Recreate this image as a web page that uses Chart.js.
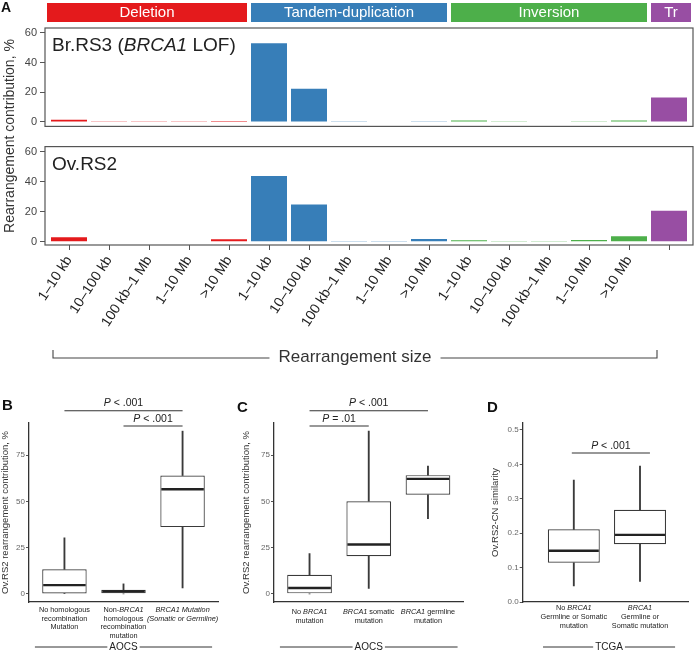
<!DOCTYPE html>
<html>
<head>
<meta charset="utf-8">
<script src="https://cdn.jsdelivr.net/npm/chart.js@4.4.1/dist/chart.umd.min.js"></script>
<style>
html, body { margin: 0; padding: 0; background: #fff; }
body { width: 694px; height: 652px; position: relative; overflow: hidden; font-family: "Liberation Sans", Arial, sans-serif; }
canvas { position: absolute; }
.tag { position: absolute; font-weight: bold; font-size: 15px; line-height: 15px; color: #111; }
#ytitleA { position: absolute; left: -111px; top: 128px; width: 240px; height: 16px; line-height: 16px;
  text-align: center; font-size: 14px; color: #333; transform: rotate(-90deg); }
</style>
</head>
<body>
<canvas id="aTop" width="694" height="136" style="left:0;top:0"></canvas>
<canvas id="aBottom" width="694" height="237" style="left:0;top:137px"></canvas>
<canvas id="panelB" width="228" height="257" style="left:0;top:395px"></canvas>
<canvas id="panelC" width="240" height="257" style="left:230px;top:395px"></canvas>
<canvas id="panelD" width="234" height="257" style="left:460px;top:395px"></canvas>
<div id="ytitleA">Rearrangement contribution, %</div>
<div class="tag" style="left:1px;top:0;font-size:14px">A</div>
<div class="tag" style="left:2px;top:397px">B</div>
<div class="tag" style="left:237px;top:399px">C</div>
<div class="tag" style="left:487px;top:399px">D</div>
<script>
const FONT = '"Liberation Sans", Arial, sans-serif';
Chart.defaults.font.family = FONT;

// ---- panel A data ----
const sizeLabels = ["1–10 kb", "10–100 kb", "100 kb–1 Mb", "1–10 Mb", ">10 Mb",
                    "1–10 kb", "10–100 kb", "100 kb–1 Mb", "1–10 Mb", ">10 Mb",
                    "1–10 kb", "10–100 kb", "100 kb–1 Mb", "1–10 Mb", ">10 Mb", ""];
const classNames = ["Deletion", "Tandem-duplication", "Inversion", "Tr"];
const classColors = ["#E41A1C", "#377EB8", "#4DAF4A", "#984EA3"];
const classOfBar = [0, 0, 0, 0, 0, 1, 1, 1, 1, 1, 2, 2, 2, 2, 2, 3];
const brRS3 = [1.5, 0.2, 0.2, 0.2, 0.6, 53.1, 22.4, 0.5, 0.3, 0.5, 1.0, 0.4, 0.3, 0.4, 1.0, 16.4];
const ovRS2 = [3.0, 0.4, 0.4, 0.4, 1.8, 44.0, 25.0, 0.3, 0.3, 1.9, 1.0, 0.3, 0.3, 1.2, 3.7, 20.8];

// ---- panel B data ----
const bCats = ["No homologous\nrecombination\nMutation", "Non-*BRCA1*\nhomologous\nrecombination\nmutation",
               "*BRCA1 Mutation*\n*(Somatic or Germline)*"];
const bLow = [0, 0, 3.2];
const bQ1 = [0.2, 0, 36.1];
const bMed = [4.7, 1.3, 56.6];
const bQ3 = [13.3, 2.2, 64.0];
const bHigh = [30.3, 5.4, 88.0];
const bP = [{ from: 1, to: 3, y: 99.0, text: "*P* < .001" }, { from: 2, to: 3, y: 90.8, text: "*P* < .001" }];

// ---- panel C data ----
const cCats = ["No *BRCA1*\nmutation", "*BRCA1* somatic\nmutation", "*BRCA1* germline\nmutation"];
const cLow = [0, 2.9, 40.6];
const cQ1 = [0, 20.4, 53.6];
const cMed = [3.2, 26.7, 62.2];
const cQ3 = [10.3, 50.1, 64.2];
const cHigh = [21.8, 88.0, 69.1];
const cP = [{ from: 1, to: 3, y: 99.0, text: "*P* < .001" }, { from: 1, to: 2, y: 90.8, text: "*P* = .01" }];

// ---- panel D data ----
const dCats = ["No *BRCA1*\nGermline or Somatic\nmutation", "*BRCA1*\nGermline or\nSomatic mutation"];
const dLow = [0.047, 0.060];
const dQ1 = [0.114, 0.168];
const dMed = [0.149, 0.195];
const dQ3 = [0.211, 0.268];
const dHigh = [0.354, 0.395];
const dP = [{ from: 0.97, to: 2.15, y: 0.433, text: "*P* < .001" }];

// text with *italic* runs
function richText(ctx, str, x, y, size, color, align, baseline) {
  const parts = str.split('*');
  const fonts = parts.map((_, i) => (i % 2 ? 'italic ' : '') + size + 'px ' + FONT);
  let w = 0;
  parts.forEach((t, i) => { ctx.font = fonts[i]; w += ctx.measureText(t).width; });
  let cx = align === 'left' ? x : x - w / 2;
  ctx.fillStyle = color;
  ctx.textAlign = 'left';
  ctx.textBaseline = baseline || 'middle';
  parts.forEach((t, i) => {
    ctx.font = fonts[i];
    ctx.fillText(t, cx, y);
    cx += ctx.measureText(t).width;
  });
}

const framePlugin = {
  id: 'frame',
  afterDraw(chart) {
    const a = chart.chartArea, ctx = chart.ctx;
    ctx.save();
    ctx.strokeStyle = '#555';
    ctx.lineWidth = 1.2;
    ctx.strokeRect(a.left, a.top, a.right - a.left, a.bottom - a.top);
    ctx.restore();
  }
};

function barPanel(id, values, title, yMin, yMax, bottom) {
  const xs = values.map((_, i) => i);
  const plugins = [framePlugin, {
    id: 'panelTitle',
    afterDraw(chart) {
      const a = chart.chartArea, ctx = chart.ctx;
      ctx.save();
      richText(ctx, title, a.left + 7, a.top + 18, 19, '#222', 'left');
      const x = chart.scales.x;
      if (!bottom) {
        // category strip above the panel
        const bounds = [-0.6, 4.5, 9.5, 14.5, 15.6];
        classNames.forEach((name, k) => {
          const l = x.getPixelForValue(bounds[k]) + 2, r = x.getPixelForValue(bounds[k + 1]) - 2;
          ctx.fillStyle = classColors[k];
          ctx.fillRect(l, 3, r - l, 19);
          ctx.fillStyle = '#fff';
          ctx.font = '15px ' + FONT;
          ctx.textAlign = 'center';
          ctx.textBaseline = 'middle';
          ctx.fillText(name, (l + r) / 2, 13);
        });
      } else {
        // "Rearrangement size" bracket
        const y = a.bottom + 113;
        const l = x.getPixelForValue(-0.4), r = x.getPixelForValue(14.7);
        const mid = (l + r) / 2;
        ctx.font = '17px ' + FONT;
        const tw = ctx.measureText('Rearrangement size').width;
        ctx.strokeStyle = '#444';
        ctx.lineWidth = 1.1;
        ctx.beginPath();
        ctx.moveTo(l, y - 8); ctx.lineTo(l, y); ctx.lineTo(mid - tw / 2 - 9, y);
        ctx.moveTo(mid + tw / 2 + 9, y); ctx.lineTo(r, y); ctx.lineTo(r, y - 8);
        ctx.stroke();
        richText(ctx, 'Rearrangement size', mid, y - 1, 17, '#333', 'center');
      }
      ctx.restore();
    }
  }];
  return new Chart(document.getElementById(id), {
    type: 'bar',
    data: {
      datasets: [{
        data: xs.map((x, i) => ({ x: x, y: values[i] })),
        backgroundColor: classOfBar.map(c => classColors[c]),
        borderWidth: 0,
        categoryPercentage: 1,
        barPercentage: 0.9
      }]
    },
    options: {
      responsive: false, animation: false, events: [],
      layout: { padding: bottom ? { top: 3, right: 1, bottom: 0, left: 0 } : { top: 28, right: 1, bottom: 3, left: 0 } },
      plugins: { legend: { display: false }, tooltip: { enabled: false } },
      scales: {
        x: {
          type: 'linear', min: -0.6, max: 15.6, offset: false, display: bottom,
          afterBuildTicks: s => { s.ticks = xs.map(v => ({ value: v })); },
          afterFit: s => { s.height = bottom ? 129 : 0; },
          ticks: { autoSkip: false, minRotation: 57, maxRotation: 57, font: { size: 14 }, color: '#222', padding: 3,
                   callback: (v, i) => sizeLabels[i] },
          grid: { drawOnChartArea: false, tickLength: 5, color: '#555', offset: false },
          border: { display: false }
        },
        y: {
          min: yMin, max: yMax,
          afterBuildTicks: s => { s.ticks = [0, 20, 40, 60].map(v => ({ value: v })); },
          afterFit: s => { s.width = 45; },
          ticks: { font: { size: 11 }, color: '#444', padding: 3 },
          grid: { drawOnChartArea: false, tickLength: 5, color: '#555' },
          border: { display: false }
        }
      }
    },
    plugins: plugins
  });
}

barPanel('aTop', brRS3, 'Br.RS3 (*BRCA1* LOF)', -3, 63.3, false);
barPanel('aBottom', ovRS2, 'Ov.RS2', -2.1, 63.6, true);

function boxPanel(id, o) {
  const xs = o.cats.map((_, i) => i + 1);
  const span = (a, b) => xs.map((x, i) => ({ x: x, y: [a[i], b[i]] }));
  const halfBox = c => {
    const sx = c.chart.scales.x;
    return sx.getPixelForValue(1 + o.boxWidth / 2) - sx.getPixelForValue(1) - 1;
  };
  const datasets = [
    { type: 'scatter', data: xs.map((x, i) => ({ x: x, y: o.med[i] })), pointStyle: 'line',
      borderColor: '#222', borderWidth: 2.4, pointRadius: halfBox, order: 0 },
    { data: span(o.q1, o.q3), backgroundColor: '#fff', borderColor: '#3a3a3a', borderWidth: 1.2,
      borderSkipped: false, grouped: false, categoryPercentage: 1, barPercentage: o.boxWidth, order: 1 },
    { data: span(o.low, o.q1), backgroundColor: '#3a3a3a', barThickness: 1.2, grouped: false, order: 2 },
    { data: span(o.q3, o.high), backgroundColor: '#3a3a3a', barThickness: 1.2, grouped: false, order: 2 }
  ];
  o.pvals.forEach(p => datasets.push({
    type: 'line', data: [{ x: p.from, y: p.y }, { x: p.to, y: p.y }],
    borderColor: '#333', borderWidth: 1.1, pointRadius: 0, clip: false, order: 3
  }));
  const notes = {
    id: 'notes',
    afterDraw(chart) {
      const a = chart.chartArea, ctx = chart.ctx, sx = chart.scales.x, sy = chart.scales.y;
      ctx.save();
      o.cats.forEach((cat, i) => {
        cat.split('\n').forEach((line, k) => {
          richText(ctx, line, sx.getPixelForValue(i + 1), a.bottom + o.labTop + k * o.labLh, 7.3, '#222', 'center');
        });
      });
      o.pvals.forEach(p => {
        richText(ctx, p.text, sx.getPixelForValue((p.from + p.to) / 2), sy.getPixelForValue(p.y) - 2, 10.5, '#222', 'center', 'bottom');
      });
      const y = a.bottom + 45;
      const l = sx.getPixelForValue(o.group.from), r = sx.getPixelForValue(o.group.to);
      const mid = (l + r) / 2;
      ctx.font = '10px ' + FONT;
      const tw = ctx.measureText(o.group.text).width;
      ctx.strokeStyle = '#333';
      ctx.lineWidth = 1;
      ctx.beginPath();
      ctx.moveTo(l, y); ctx.lineTo(mid - tw / 2 - 2, y);
      ctx.moveTo(mid + tw / 2 + 2, y); ctx.lineTo(r, y);
      ctx.stroke();
      richText(ctx, o.group.text, mid, y, 10, '#222', 'center');
      ctx.restore();
    }
  };
  return new Chart(document.getElementById(id), {
    type: 'bar',
    data: { datasets: datasets },
    options: {
      responsive: false, animation: false, events: [],
      layout: { padding: o.pad },
      plugins: { legend: { display: false }, tooltip: { enabled: false } },
      scales: {
        x: {
          type: 'linear', min: o.xMin, max: o.xMax, offset: false,
          afterBuildTicks: s => { s.ticks = xs.map(v => ({ value: v })); },
          afterFit: s => { s.height = 50; },
          ticks: { display: false },
          grid: { display: false, offset: false },
          border: { color: '#333', width: 1.3 }
        },
        y: {
          min: o.yMin, max: o.yMax,
          afterBuildTicks: s => { s.ticks = o.yTicks.map(v => ({ value: v })); },
          afterFit: s => { s.width = o.yWidth; },
          ticks: { font: { size: 8 }, color: '#666', padding: 1, callback: o.fmt },
          grid: { drawOnChartArea: false, tickLength: 3, color: '#555' },
          border: { color: '#333', width: 1.3 },
          title: { display: true, text: o.yTitle, font: { size: 9.5 }, color: '#333', padding: 0 }
        }
      }
    },
    plugins: [notes]
  });
}

const pctTitle = 'Ov.RS2 rearrangement contribution, %';
boxPanel('panelB', {
  cats: bCats, low: bLow, q1: bQ1, med: bMed, q3: bQ3, high: bHigh, pvals: bP,
  group: { from: 0.5, to: 3.5, text: 'AOCS' },
  xMin: 0.4, xMax: 3.6, yMin: -4.4, yMax: 92.4, yTicks: [0, 25, 50, 75], fmt: v => String(v),
  boxWidth: 0.753, yWidth: 29, pad: { left: 0, top: 28, right: 10, bottom: 0 },
  yTitle: pctTitle, labTop: 8, labLh: 8.7
});
boxPanel('panelC', {
  cats: cCats, low: cLow, q1: cQ1, med: cMed, q3: cQ3, high: cHigh, pvals: cP,
  group: { from: 0.5, to: 3.5, text: 'AOCS' },
  xMin: 0.4, xMax: 3.6, yMin: -4.4, yMax: 92.4, yTicks: [0, 25, 50, 75], fmt: v => String(v),
  boxWidth: 0.755, yWidth: 33, pad: { left: 11, top: 28, right: 6.5, bottom: 0 },
  yTitle: pctTitle, labTop: 10, labLh: 8.7
});
boxPanel('panelD', {
  cats: dCats, low: dLow, q1: dQ1, med: dMed, q3: dQ3, high: dHigh, pvals: dP,
  group: { from: 0.535, to: 2.53, text: 'TCGA' },
  xMin: 0.228, xMax: 2.725, yMin: 0, yMax: 0.52, yTicks: [0, 0.1, 0.2, 0.3, 0.4, 0.5], fmt: v => v.toFixed(1),
  boxWidth: 0.785, yWidth: 32.7, pad: { left: 30, top: 28, right: 6, bottom: 0 },
  yTitle: 'Ov.RS2-CN similarity', labTop: 6.3, labLh: 9
});
</script>
</body>
</html>
